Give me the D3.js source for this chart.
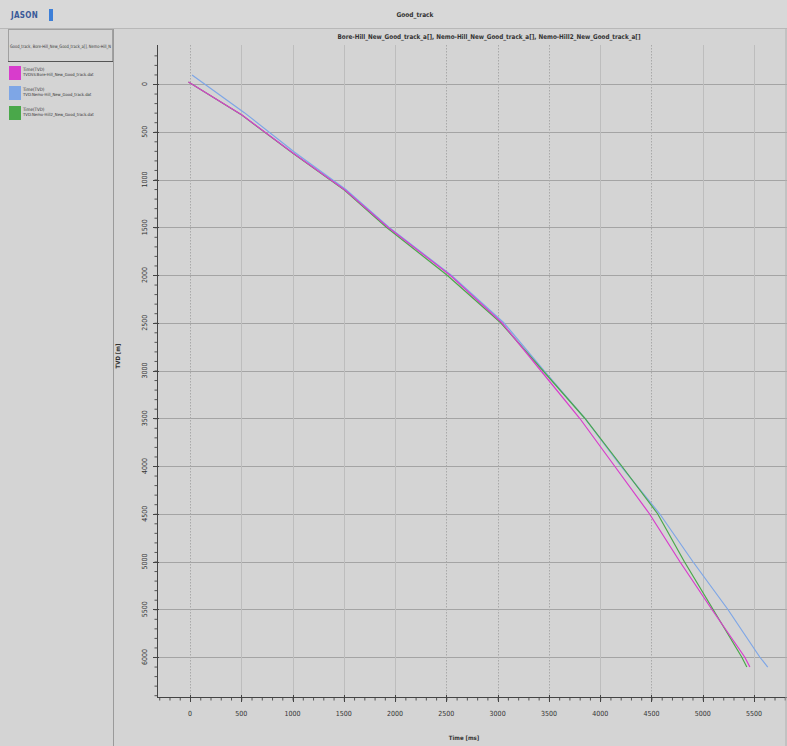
<!DOCTYPE html>
<html>
<head>
<meta charset="utf-8">
<script src="https://cdn.jsdelivr.net/npm/d3@7"></script>
<style>
  html, body { margin: 0; padding: 0; background: #d4d4d4; }
  svg { display: block; }
  text { font-family: "Liberation Sans Narrow", "DejaVu Sans Condensed", "Liberation Sans", sans-serif; fill: #333; }
</style>
</head>
<body>
<svg id="chart" width="787" height="746"></svg>
<script>
// Time-depth curves: [time ms, TVD m]
const boreHill = [[-15, -20], [507, 325], [1004, 723], [1511, 1110], [1930, 1500], [2534, 2000], [3041, 2500],
  [3420, 3000], [3800, 3500], [4140, 4000], [4480, 4500], [4776, 5000], [5088, 5500], [5409, 6000], [5460, 6105]];
const nemoHill = [[20, -94], [530, 300], [1020, 715], [1520, 1105], [1940, 1500], [2545, 2000], [3060, 2500],
  [3450, 3000], [3850, 3500], [4200, 4000], [4580, 4500], [4903, 5000], [5244, 5500], [5556, 6000], [5634, 6105]];
const nemoHill2 = [[-15, -20], [505, 325], [1000, 723], [1505, 1110], [1915, 1500], [2505, 2000], [3030, 2500],
  [3440, 3000], [3850, 3500], [4210, 4000], [4560, 4500], [4820, 5000], [5100, 5500], [5380, 6000], [5430, 6105]];

const timeTicks = d3.range(0, 5501, 500);
const depthTicks = d3.range(0, 6001, 500);
const dottedTimeGrid = [0, 2500, 3000, 3500, 4500];

const seriesNames = ["Bore-Hill_New_Good_track_a[]", "Nemo-Hill_New_Good_track_a[]", "Nemo-Hill2_New_Good_track_a[]"];
const legendTitles = ["Time(TVD)", "Time(TVD)", "Time(TVD)"];
const legendFiles = ["TVDSS:Bore-Hill_New_Good_track.dat", "TVD:Nemo-Hill_New_Good_track.dat", "TVD:Nemo-Hill2_New_Good_track.dat"];
const colors = ["#d83ccc", "#7ea6e6", "#4aa84a"];

const svg = d3.select("#chart");
const W = 787, H = 746;

const plot = { left: 157, right: 787, top: 45, bottom: 697 };
const x = d3.scaleLinear().domain([0, 5500]).range([190, 754]);
const y = d3.scaleLinear().domain([0, 6000]).range([84, 657]);

// page background and header band
svg.append("rect").attr("width", W).attr("height", H).attr("fill", "#d4d4d4");
svg.append("rect").attr("width", W).attr("height", 28).attr("fill", "#d8d8d8");
svg.append("line").attr("x1", 0).attr("x2", W).attr("y1", 28.5).attr("y2", 28.5).attr("stroke", "#b8b8b8");

// logo
svg.append("text").attr("x", 11).attr("y", 18).attr("font-size", 8).attr("font-weight", "bold")
  .style("fill", "#3a5a98").attr("letter-spacing", "0.3").text("JASON");
svg.append("rect").attr("x", 49).attr("y", 9).attr("width", 4).attr("height", 12).attr("fill", "#3d7fd8");

svg.append("text").attr("x", 415).attr("y", 17).attr("font-size", 6.5).attr("font-weight", "bold")
  .attr("text-anchor", "middle").text("Good_track");

// left panel
svg.append("line").attr("x1", 113.5).attr("x2", 113.5).attr("y1", 29).attr("y2", H).attr("stroke", "#9a9a9a");
svg.append("rect").attr("x", 8.5).attr("y", 29.5).attr("width", 104).attr("height", 32).attr("fill", "none").attr("stroke", "#a0a0a0");
svg.append("line").attr("x1", 8).attr("x2", 113).attr("y1", 61.5).attr("y2", 61.5).attr("stroke", "#555");
svg.append("text").attr("x", 10).attr("y", 48).attr("font-size", 4.6).attr("textLength", 101)
  .attr("lengthAdjust", "spacingAndGlyphs").text("Good_track, Bore-Hill_New_Good_track_a[], Nemo-Hill_N");

const leg = svg.append("g");
colors.forEach((c, i) => {
  const top = 66 + i * 20;
  leg.append("rect").attr("x", 9).attr("y", top).attr("width", 12).attr("height", 14).attr("fill", c);
  leg.append("text").attr("x", 23).attr("y", top + 5).attr("font-size", 4.5).text(legendTitles[i]);
  leg.append("text").attr("x", 23).attr("y", top + 10).attr("font-size", 4.2).text(legendFiles[i]);
});

// subtitle
svg.append("text").attr("x", 489).attr("y", 39).attr("font-size", 6.5).attr("font-weight", "bold").attr("text-anchor", "middle")
  .attr("textLength", 303).attr("lengthAdjust", "spacingAndGlyphs").text(seriesNames.join(", "));

// grid
const grid = svg.append("g");
grid.selectAll("line.h").data(depthTicks).join("line")
  .attr("x1", plot.left).attr("x2", plot.right)
  .attr("y1", d => Math.round(y(d)) + 0.5).attr("y2", d => Math.round(y(d)) + 0.5)
  .attr("stroke", "#a4a4a4").attr("stroke-width", 1.2);
grid.selectAll("line.v").data(timeTicks).join("line")
  .attr("x1", d => Math.round(x(d)) + 0.5).attr("x2", d => Math.round(x(d)) + 0.5)
  .attr("y1", plot.top).attr("y2", plot.bottom)
  .attr("stroke", d => dottedTimeGrid.includes(d) ? "#a9a9a9" : "#bdbdbd")
  .attr("stroke-dasharray", d => dottedTimeGrid.includes(d) ? "1.5,1.5" : null);

// axes
const yMinor = d3.range(-300, 6401, 100);
const xMinor = d3.range(-300, 5801, 100);
const yAxis = svg.append("g").attr("transform", `translate(${plot.left + 0.5},0)`)
  .call(d3.axisLeft(y).tickValues(yMinor).tickSize(3).tickFormat(""));
const xAxis = svg.append("g").attr("transform", `translate(0,${plot.bottom + 0.5})`)
  .call(d3.axisBottom(x).tickValues(xMinor).tickSize(3).tickFormat(""));
[yAxis, xAxis].forEach(a => {
  a.select(".domain").remove();
  a.selectAll(".tick line").attr("stroke", "#555");
});
svg.append("line").attr("x1", plot.left + 0.5).attr("x2", plot.left + 0.5).attr("y1", plot.top).attr("y2", plot.bottom + 1).attr("stroke", "#444");
svg.append("line").attr("x1", plot.left).attr("x2", plot.right).attr("y1", plot.bottom + 0.5).attr("y2", plot.bottom + 0.5).attr("stroke", "#444");

// major tick marks
svg.append("g").selectAll("line").data(depthTicks).join("line")
  .attr("x1", plot.left - 4).attr("x2", plot.left + 2)
  .attr("y1", d => Math.round(y(d)) + 0.5).attr("y2", d => Math.round(y(d)) + 0.5).attr("stroke", "#444");
svg.append("g").selectAll("line").data(timeTicks).join("line")
  .attr("x1", d => Math.round(x(d)) + 0.5).attr("x2", d => Math.round(x(d)) + 0.5)
  .attr("y1", plot.bottom - 2).attr("y2", plot.bottom + 5).attr("stroke", "#444");

// tick labels
svg.append("g").selectAll("text").data(depthTicks).join("text")
  .attr("transform", d => `translate(147,${y(d)}) rotate(-90)`)
  .attr("text-anchor", "middle").attr("font-size", 7).text(d => d);
svg.append("g").selectAll("text").data(timeTicks).join("text")
  .attr("x", d => x(d)).attr("y", 716).attr("text-anchor", "middle").attr("font-size", 7).text(d => d);

// axis titles
svg.append("text").attr("transform", "translate(120,356) rotate(-90)").attr("text-anchor", "middle")
  .attr("font-size", 6).attr("font-weight", "bold").text("TVD [m]");
svg.append("text").attr("x", 464).attr("y", 740).attr("text-anchor", "middle")
  .attr("font-size", 6).attr("font-weight", "bold").text("Time [ms]");

// curves
const line = d3.line().x(d => x(d[0])).y(d => y(d[1]));
const curves = svg.append("g").attr("fill", "none").attr("stroke-width", 1.2);
curves.append("path").datum(nemoHill).attr("d", line).attr("stroke", colors[1]);
curves.append("path").datum(nemoHill2).attr("d", line).attr("stroke", colors[2]);
curves.append("path").datum(boreHill).attr("d", line).attr("stroke", colors[0]);

// outer frame
svg.append("line").attr("x1", W - 1).attr("x2", W - 1).attr("y1", 29).attr("y2", H).attr("stroke", "#b0b0b0");
</script>
</body>
</html>
